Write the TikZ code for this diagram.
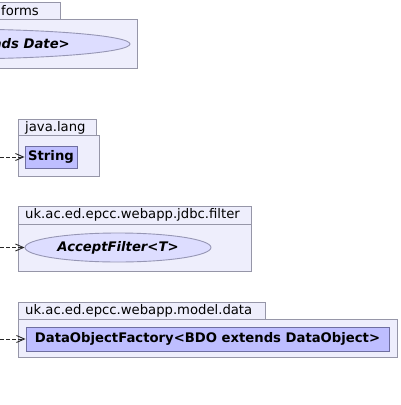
\documentclass[tikz,border=0pt]{standalone}
\usepackage{fontspec}
\setmainfont{DejaVu Sans}
\usetikzlibrary{shapes.geometric,arrows.meta}
\definecolor{pkgfill}{RGB}{238,238,252}
\definecolor{pkgline}{RGB}{150,150,168}
\definecolor{clsfill}{RGB}{190,190,255}
\definecolor{clsline}{RGB}{110,110,160}
\definecolor{ifill}{RGB}{221,221,255}
\definecolor{iline}{RGB}{150,150,180}
\definecolor{depline}{RGB}{40,40,40}
\tikzset{
  pkgpart/.style={draw=pkgline, fill=pkgfill, line width=0.9pt, rectangle, anchor=north west, inner sep=0pt},
  pkglabel/.style={anchor=west, inner sep=0pt, font=\fontsize{13.2}{15}\selectfont},
  clsbox/.style={draw=clsline, fill=clsfill, line width=0.9pt, rectangle, inner sep=0pt, font=\fontsize{13.2}{15}\selectfont\bfseries},
  ifacebox/.style={draw=iline, fill=ifill, line width=0.9pt, ellipse, inner sep=0pt, font=\fontsize{13.2}{15}\selectfont\bfseries\itshape},
  dep/.style={draw=depline, line width=0.9pt, dash pattern=on 4pt off 2pt, -{Straight Barb[length=8pt,width=7pt,line width=0.9pt]}}
}
\begin{document}
\begin{tikzpicture}[x=1pt,y=-1pt]
\useasboundingbox (0,0) rectangle (400,405);
\clip (0,0) rectangle (400,405);
% package: forms
\node[pkgpart, minimum width=130pt, minimum height=17pt] (formsTab) at (-70,2) {};
\node[pkgpart, minimum width=207pt, minimum height=49pt] (formsBody) at (-70,19) {};
\node[pkglabel] (formsLbl) at (1,10.5) {forms};
\node[ifacebox, minimum width=360pt, minimum height=30pt] (formsIf) at (-50,44) {};
\node[anchor=east, inner sep=0pt, font=\fontsize{13.2}{15}\selectfont\bfseries\itshape] (formsTxt) at (70,44) {ads Date>};
% package: java.lang
\node[pkgpart, minimum width=78pt, minimum height=16pt] (jlTab) at (18,119) {};
\node[pkgpart, minimum width=81pt, minimum height=41pt] (jlBody) at (18,135) {};
\node[pkglabel] (jlLbl) at (25,127.5) {java.lang};
\node[clsbox, minimum width=52pt, minimum height=22pt] (string) at (51,157) {String};
% package: jdbc.filter
\node[pkgpart, minimum width=233pt, minimum height=18pt] (jfTab) at (18,206) {};
\node[pkgpart, minimum width=233pt, minimum height=47pt] (jfBody) at (18,224) {};
\node[pkglabel] (jfLbl) at (25,215) {uk.ac.ed.epcc.webapp.jdbc.filter};
\node[ifacebox, minimum width=186pt, minimum height=29pt] (accept) at (118,247.5) {AcceptFilter<T>};
% package: model.data
\node[pkgpart, minimum width=247pt, minimum height=17pt] (mdTab) at (18,302) {};
\node[pkgpart, minimum width=379pt, minimum height=38pt] (mdBody) at (18,319) {};
\node[pkglabel] (mdLbl) at (25,310.5) {uk.ac.ed.epcc.webapp.model.data};
\node[clsbox, minimum width=363pt, minimum height=24pt] (factory) at (207.5,339) {DataObjectFactory<BDO extends DataObject>};
% connectors
\coordinate (s1) at (0,157);
\coordinate (s2) at (0,247.5);
\coordinate (s3) at (0,339);
\draw[dep] (s1) -- (string.west);
\draw[dep] (s2) -- (accept.west);
\draw[dep] (s3) -- (factory.west);
\end{tikzpicture}
\end{document}
